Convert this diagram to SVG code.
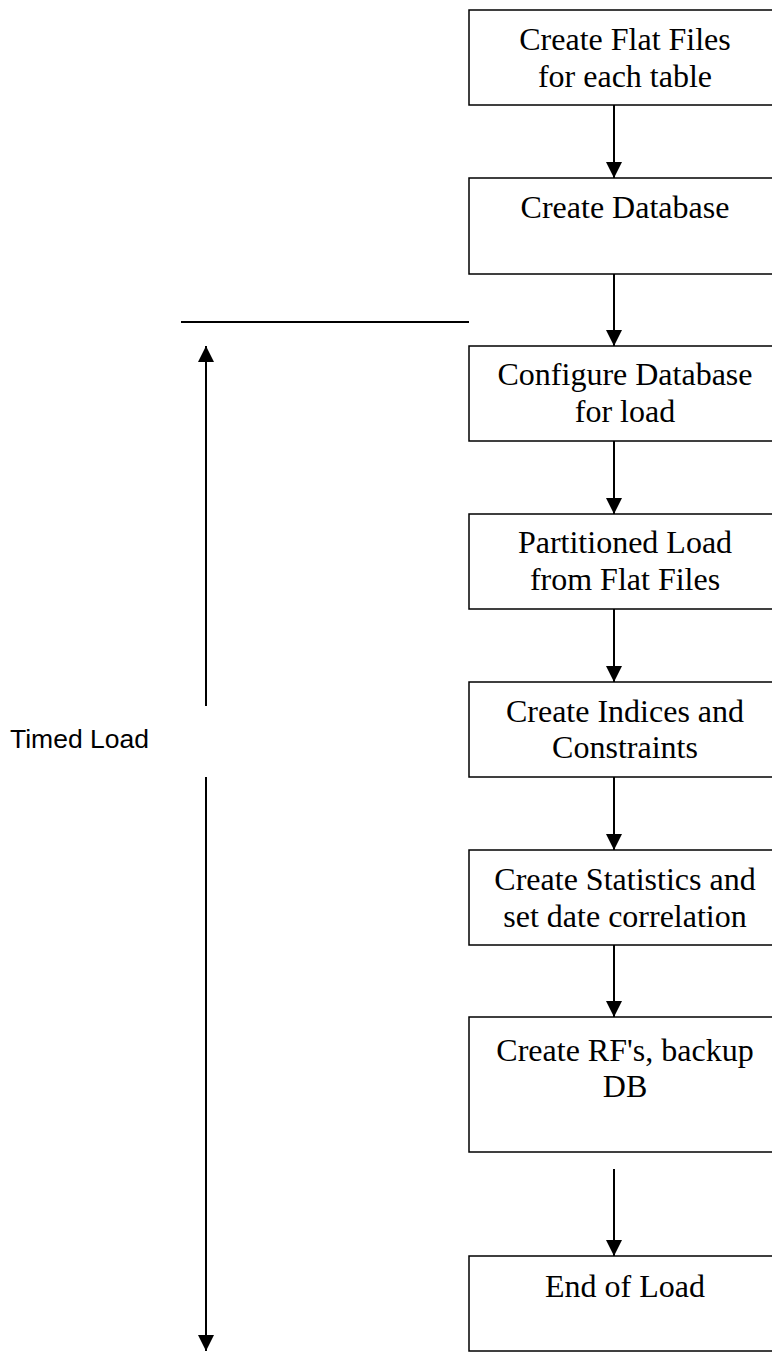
<svg xmlns="http://www.w3.org/2000/svg" width="772" height="1364" viewBox="0 0 772 1364">
<style>
.box{fill:#fff;stroke:#000;stroke-width:1.5}
.t{font-family:"Liberation Serif","Times New Roman",serif;font-size:32px;text-anchor:middle;fill:#000}
.lbl{font-family:"Liberation Sans",Arial,sans-serif;font-size:26.5px;fill:#000}
.c{stroke:#000;stroke-width:2;fill:none}
</style>
<defs>
<marker id="ah" viewBox="0 0 16 16" refX="16" refY="8" markerWidth="16" markerHeight="16" markerUnits="userSpaceOnUse" orient="auto-start-reverse">
<path d="M0,0 L16,8 L0,16 Z" fill="#000"/>
</marker>
</defs>
<g id="n1"><rect class="box" x="469" y="10" width="312" height="95"/><text class="t" x="625" y="50">Create Flat Files</text><text class="t" x="625" y="87">for each table</text></g>
<g id="n2"><rect class="box" x="469" y="178" width="312" height="96"/><text class="t" x="625" y="218">Create Database</text></g>
<g id="n3"><rect class="box" x="469" y="346" width="312" height="95"/><text class="t" x="625" y="385">Configure Database</text><text class="t" x="625" y="422">for load</text></g>
<g id="n4"><rect class="box" x="469" y="514" width="312" height="95"/><text class="t" x="625" y="553">Partitioned Load</text><text class="t" x="625" y="590">from Flat Files</text></g>
<g id="n5"><rect class="box" x="469" y="682" width="312" height="95"/><text class="t" x="625" y="722">Create Indices and</text><text class="t" x="625" y="758">Constraints</text></g>
<g id="n6"><rect class="box" x="469" y="850" width="312" height="95"/><text class="t" x="625" y="890">Create Statistics and</text><text class="t" x="625" y="927">set date correlation</text></g>
<g id="n7"><rect class="box" x="469" y="1017" width="312" height="135"/><text class="t" x="625" y="1061">Create RF's, backup</text><text class="t" x="625" y="1097">DB</text></g>
<g id="n8"><rect class="box" x="469" y="1256" width="312" height="95"/><text class="t" x="625" y="1297">End of Load</text></g>
<g id="timed"><text class="lbl" x="10" y="748">Timed Load</text></g>
<g id="connectors">
<line class="c" x1="614" y1="105" x2="614" y2="178" marker-end="url(#ah)"/>
<line class="c" x1="614" y1="274" x2="614" y2="346" marker-end="url(#ah)"/>
<line class="c" x1="614" y1="441" x2="614" y2="514" marker-end="url(#ah)"/>
<line class="c" x1="614" y1="609" x2="614" y2="682" marker-end="url(#ah)"/>
<line class="c" x1="614" y1="777" x2="614" y2="850" marker-end="url(#ah)"/>
<line class="c" x1="614" y1="945" x2="614" y2="1017" marker-end="url(#ah)"/>
<line class="c" x1="614" y1="1169" x2="614" y2="1256" marker-end="url(#ah)"/>
<line class="c" x1="181" y1="322" x2="469" y2="322"/>
<line class="c" x1="206" y1="706" x2="206" y2="346" marker-end="url(#ah)"/>
<line class="c" x1="206" y1="777" x2="206" y2="1351" marker-end="url(#ah)"/>
</g>
</svg>
